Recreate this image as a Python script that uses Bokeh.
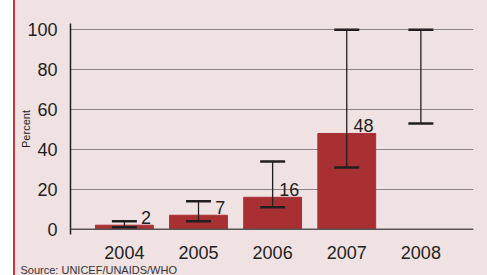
from bokeh.plotting import figure
from bokeh.models import (ColumnDataSource, Whisker, TeeHead, Span, Title,
                          FixedTicker, Range1d)
from bokeh.core.properties import value
from bokeh.embed import file_html
from bokeh.resources import INLINE

# ---- data ----
years = [2004, 2005, 2006, 2007, 2008]
bar_years = [2004, 2005, 2006, 2007]
percent = [2, 7, 16, 48]
err_low = [1, 4, 11, 31, 53]
err_high = [4, 14, 34, 100, 100]
y_ticks = [0, 20, 40, 60, 80, 100]
source_note = "Source: UNICEF/UNAIDS/WHO"
y_title = "Percent"

BG = "#f0e1e3"
BAR = "#a93032"
INK = "#231f20"
EDGE = "#c0393e"
FONT = "Liberation Sans"

p = figure(width=487, height=275, output_backend="svg", toolbar_location=None,
           x_range=Range1d(2003.273, 2008.71), y_range=Range1d(-2.67, 103.18),
           min_border_left=70, min_border_right=14, min_border_top=23,
           min_border_bottom=41)
p.background_fill_color = BG
p.border_fill_color = None
p.outline_line_color = None
p.styles = {"background": "linear-gradient(to right, #ffffff 0px, #ffffff 13px, "
            f"{EDGE} 13px, {EDGE} 15px, {BG} 15px, {BG} 100%)"}

bars = ColumnDataSource(dict(x=bar_years, top=percent,
                             lab=[str(v) for v in percent],
                             lx=[y + 0.36 for y in bar_years]))
errs = ColumnDataSource(dict(x=years, lo=err_low, hi=err_high))

p.vbar(x="x", top="top", bottom=0, width=0.78, color=BAR, source=bars)

p.xgrid.grid_line_color = None
p.ygrid.grid_line_color = "#8a8486"
p.ygrid.grid_line_width = 1
p.ygrid.ticker = FixedTicker(ticks=y_ticks)

p.add_layout(Span(location=0, dimension="width", line_color="#5a5456",
                  line_width=1.6))

wh = Whisker(base="x", lower="lo", upper="hi", source=errs, dimension="height",
             line_color=INK, line_width=1.3, level="overlay",
             upper_head=TeeHead(size=25, line_color=INK, line_width=2.5),
             lower_head=TeeHead(size=25, line_color=INK, line_width=2.5))
p.add_layout(wh)

p.text(x="lx", y="top", text="lab", source=bars, text_align="right",
       text_baseline="alphabetic", y_offset=-7.5, text_font=value(FONT),
       text_font_size="18px", text_color=INK)

# axes
p.xaxis.ticker = FixedTicker(ticks=years)
p.xaxis.axis_line_color = None
p.xaxis.major_tick_line_color = None
p.xaxis.minor_tick_line_color = None
p.xaxis.major_label_text_font = FONT
p.xaxis.major_label_text_font_size = "18px"
p.xaxis.major_label_text_color = INK
p.xaxis.major_label_standoff = 5

p.yaxis.ticker = FixedTicker(ticks=y_ticks)
p.yaxis.axis_line_color = INK
p.yaxis.axis_line_width = 1.5
p.yaxis.major_tick_line_color = None
p.yaxis.minor_tick_line_color = None
p.yaxis.major_label_text_font = FONT
p.yaxis.major_label_text_font_size = "18px"
p.yaxis.major_label_text_color = INK
p.yaxis.major_label_standoff = 7
p.yaxis.axis_label = y_title
p.yaxis.axis_label_text_font = FONT
p.yaxis.axis_label_text_font_size = "11px"
p.yaxis.axis_label_text_font_style = "normal"
p.yaxis.axis_label_text_color = INK
p.yaxis.axis_label_standoff = -8

p.add_layout(Title(text=source_note, align="left", offset=-50, standoff=0,
                   text_font=FONT, text_font_size="11px",
                   text_font_style="normal", text_color="#333333"), "below")

open("out.html", "w").write(file_html(p, INLINE))
